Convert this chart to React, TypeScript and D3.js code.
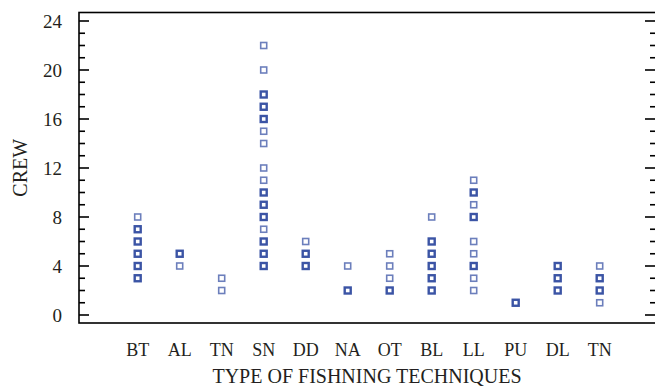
import React from "react";
import * as d3 from "d3";

const categories = ["BT", "AL", "TN", "SN", "DD", "NA", "OT", "BL", "LL", "PU", "DL", "TN "];
// values per category; count = number of overlapping observations at that value
const crewValues: number[][] = [
  [8, 7, 6, 5, 4, 3],
  [5, 4],
  [3, 2],
  [22, 20, 18, 17, 16, 15, 14, 12, 11, 10, 9, 8, 7, 6, 5, 4],
  [6, 5, 4],
  [4, 2],
  [5, 4, 3, 2],
  [8, 6, 5, 4, 3, 2],
  [11, 10, 9, 8, 6, 5, 4, 3, 2],
  [1],
  [4, 3, 2],
  [4, 3, 2, 1],
];
const crewCounts: number[][] = [
  [1, 2, 2, 2, 2, 2],
  [2, 1],
  [1, 1],
  [1, 1, 2, 2, 2, 1, 1, 1, 1, 2, 2, 2, 1, 2, 2, 2],
  [1, 2, 2],
  [1, 2],
  [1, 1, 1, 2],
  [1, 2, 2, 2, 2, 2],
  [1, 2, 1, 2, 1, 1, 2, 1, 1],
  [2],
  [2, 2, 2],
  [1, 2, 2, 1],
];
const yTicks = [0, 4, 8, 12, 16, 20, 24];
const yMinorTicks = d3.range(0, 25, 1);

const W = 655;
const H = 388;
const left = 79;
const right = 658;
const top = 12.5;
const bottom = 323;

export default function App() {
  const x = d3.scalePoint<string>().domain(categories).range([137.7, 599.7]);
  const y = d3.scaleLinear().domain([0, 24]).range([315, 21]);
  const blue = "#3B54A5";
  const txt = "#231F20";
  const font = "'Liberation Serif', 'Times New Roman', serif";

  const points: { cx: number; cy: number; c: number; k: string }[] = [];
  categories.forEach((cat, i) => {
    crewValues[i].forEach((v, j) => {
      points.push({ cx: x(cat)!, cy: y(v), c: crewCounts[i][j], k: `${i}-${j}` });
    });
  });

  return (
    <svg width={W} height={H} style={{ position: "absolute", left: 0, top: 0, background: "#fff" }}>
      <rect x={left} y={top} width={right - left} height={bottom - top} fill="none" stroke="#000" strokeWidth={1.6} />
      {yMinorTicks.map((t) => {
        const major = t % 4 === 0;
        const len = major ? 10 : 6;
        return (
          <g key={t}>
            <line x1={left} x2={left + len} y1={y(t)} y2={y(t)} stroke="#000" strokeWidth={1.6} />
            <line x1={W} x2={W - (major ? 10 : 5)} y1={y(t)} y2={y(t)} stroke="#000" strokeWidth={1.6} />
          </g>
        );
      })}
      {yTicks.map((t) => (
        <text key={t} x={62} y={y(t)} dy="0.35em" textAnchor="end" fontFamily={font} fontSize={19} fill={txt}>
          {t}
        </text>
      ))}
      {points.map((p) => {
        const s = 6;
        const dark = p.c >= 2;
        return (
          <rect
            key={p.k}
            x={p.cx - s / 2}
            y={p.cy - s / 2}
            width={s}
            height={s}
            fill="#fff"
            stroke={blue}
            strokeOpacity={dark ? 1 : 0.75}
            strokeWidth={dark ? 2.4 : 1.6}
          />
        );
      })}
      {categories.map((c) => (
        <text key={c} x={x(c)!} y={356} textAnchor="middle" fontFamily={font} fontSize={18} fill={txt}>
          {c.trim()}
        </text>
      ))}
      <text x={367} y={383} textAnchor="middle" fontFamily={font} fontSize={20} fill={txt}>
        TYPE OF FISHNING TECHNIQUES
      </text>
      <text
        transform={`translate(27, ${(top + bottom) / 2}) rotate(-90)`}
        textAnchor="middle"
        fontFamily={font}
        fontSize={20}
        fill={txt}
      >
        CREW
      </text>
    </svg>
  );
}
